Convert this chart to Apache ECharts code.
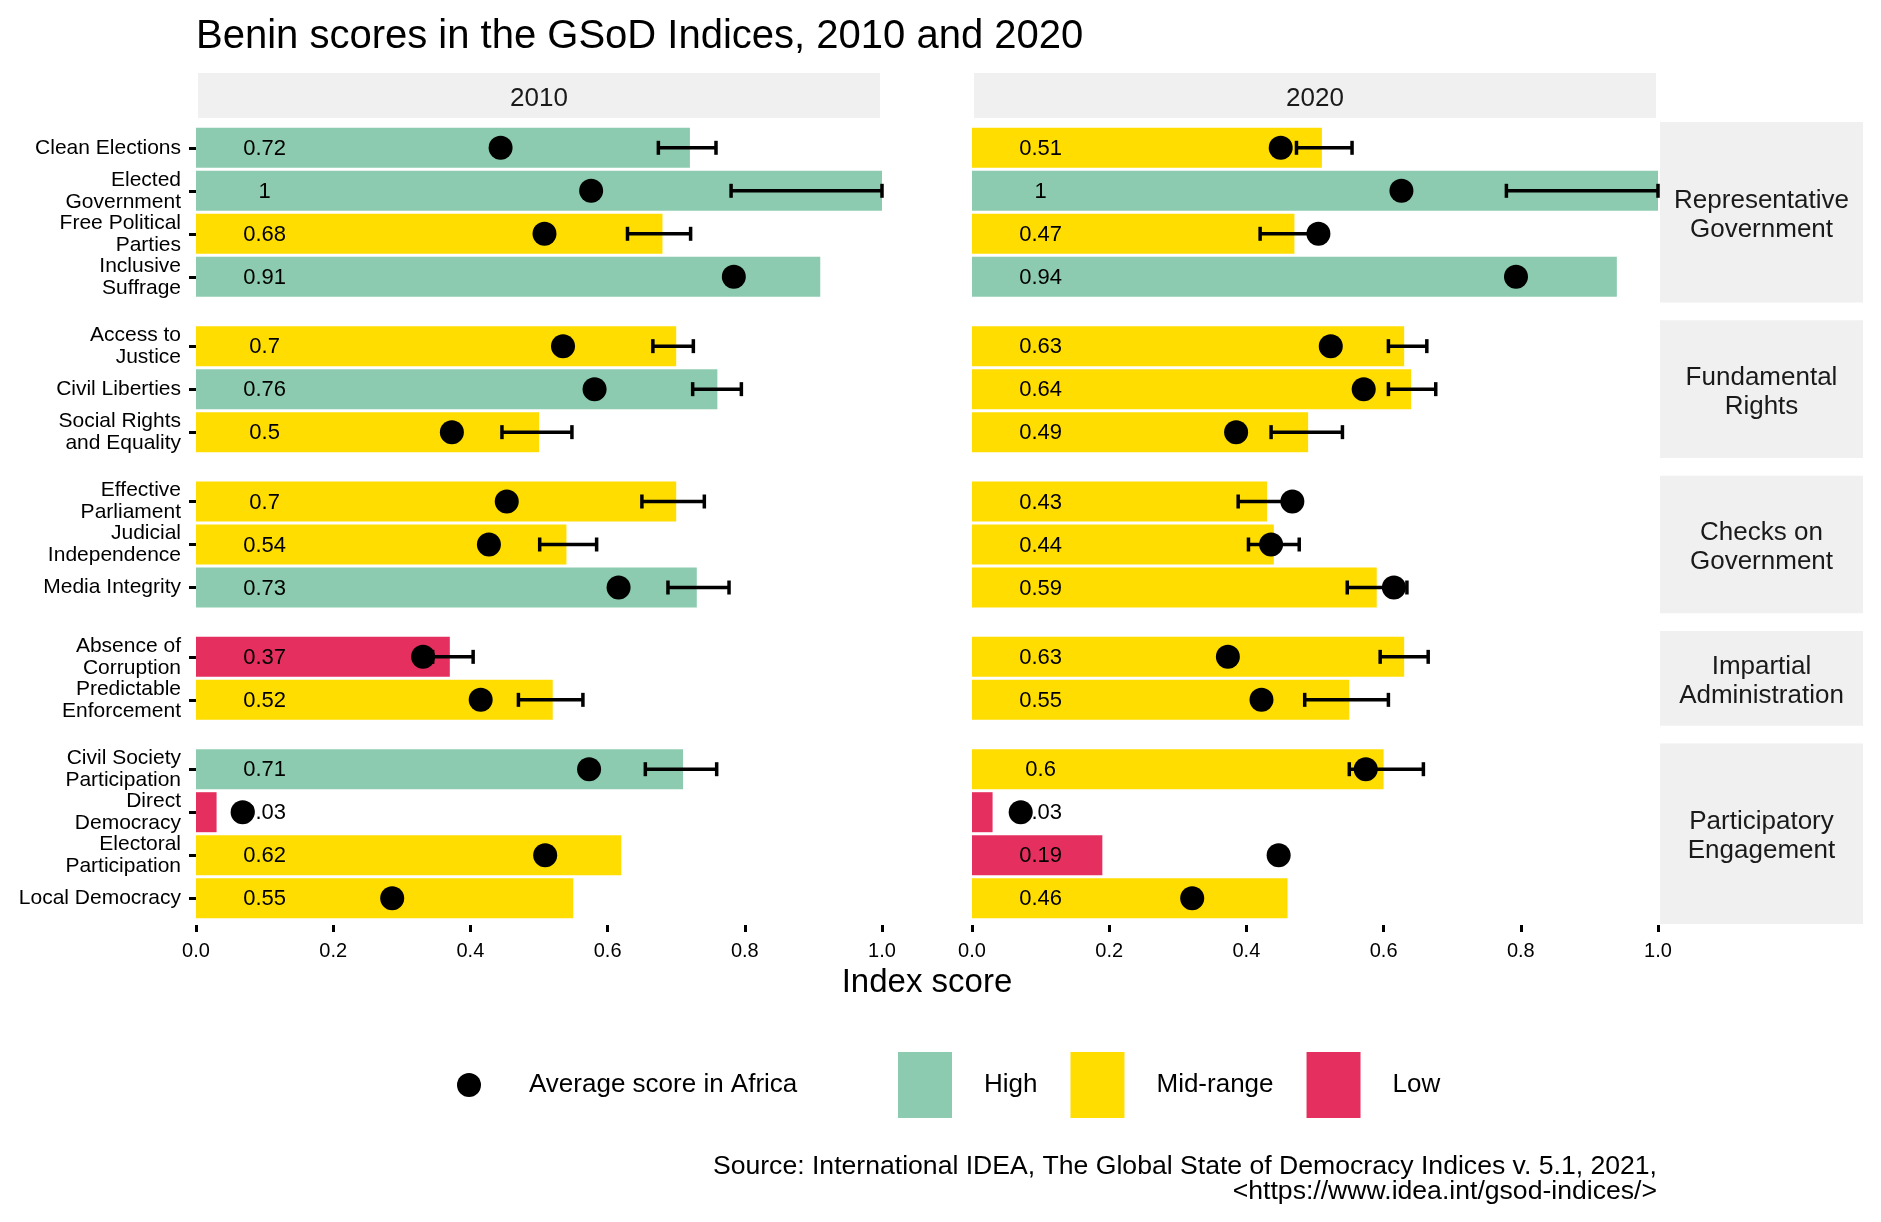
<!DOCTYPE html>
<html>
<head>
<meta charset="utf-8">
<script src="https://cdn.jsdelivr.net/npm/echarts@6/dist/echarts.min.js"></script>
<style>html,body{margin:0;padding:0;background:#fff}#chart{width:1881px;height:1222px}</style>
</head>
<body>
<div id="chart"></div>
<script>
// ---------------- data ----------------
const categories = ['Clean Elections','Elected Government','Free Political Parties','Inclusive Suffrage',
  'Access to Justice','Civil Liberties','Social Rights and Equality',
  'Effective Parliament','Judicial Independence','Media Integrity',
  'Absence of Corruption','Predictable Enforcement',
  'Civil Society Participation','Direct Democracy','Electoral Participation','Local Democracy'];
const tickLabels = ['Clean Elections','Elected\nGovernment','Free Political\nParties','Inclusive\nSuffrage',
  'Access to\nJustice','Civil Liberties','Social Rights\nand Equality',
  'Effective\nParliament','Judicial\nIndependence','Media Integrity',
  'Absence of\nCorruption','Predictable\nEnforcement',
  'Civil Society\nParticipation','Direct\nDemocracy','Electoral\nParticipation','Local Democracy'];
const groups = ['Representative\nGovernment','Fundamental\nRights','Checks on\nGovernment','Impartial\nAdministration','Participatory\nEngagement'];
const groupOf = [0,0,0,0,1,1,1,2,2,2,3,3,4,4,4,4];
const years = ['2010','2020'];
const levels = ['High','Mid-range','Low'];
const xTicks = [0,0.2,0.4,0.6,0.8,1.0];

const score2010 = [0.72,1,0.68,0.91,0.7,0.76,0.5,0.7,0.54,0.73,0.37,0.52,0.71,0.03,0.62,0.55];
const level2010 = ['High','High','Mid-range','High','Mid-range','High','Mid-range','Mid-range','Mid-range','High','Low','Mid-range','High','Low','Mid-range','Mid-range'];
const africa2010 = [0.444,0.576,0.508,0.784,0.535,0.581,0.373,0.453,0.427,0.616,0.331,0.415,0.573,0.068,0.509,0.286];
const lower2010 = [0.674,0.78,0.629,null,0.666,0.724,0.446,0.65,0.501,0.688,0.345,0.47,0.655,null,null,null];
const upper2010 = [0.758,1,0.721,null,0.725,0.795,0.548,0.741,0.584,0.777,0.404,0.564,0.759,null,null,null];

const score2020 = [0.51,1,0.47,0.94,0.63,0.64,0.49,0.43,0.44,0.59,0.63,0.55,0.6,0.03,0.19,0.46];
const level2020 = ['Mid-range','High','Mid-range','High','Mid-range','Mid-range','Mid-range','Mid-range','Mid-range','Mid-range','Mid-range','Mid-range','Mid-range','Low','Low','Mid-range'];
const africa2020 = [0.45,0.626,0.505,0.793,0.523,0.571,0.385,0.467,0.436,0.615,0.373,0.422,0.574,0.071,0.447,0.321];
const lower2020 = [0.473,0.779,0.42,null,0.607,0.607,0.436,0.388,0.403,0.547,0.595,0.485,0.55,null,null,null];
const upper2020 = [0.554,1,0.50,null,0.663,0.676,0.54,0.465,0.477,0.634,0.665,0.607,0.658,null,null,null];

const LABEL_X = 0.1; // x position of the score labels

// ---------------- style / layout ----------------
const FONT = '"Liberation Sans", Arial, Helvetica, sans-serif';
const levelColors = {'High':'#8CCBAF','Mid-range':'#FFDD00','Low':'#E5305F'};
const U = 43, GAP = 17.75, TOP0 = 122, COL_LEFT = [196, 972], COL_W = 686, BAR_W = 40;
const STRIP_X = 1660, STRIP_W = 203, STRIP_BG = '#F0F0F0';
const TXT_DY = 3; // visual centering correction for strip texts

const scores = [score2010, score2020], lvls = [level2010, level2020], africa = [africa2010, africa2020];
const lowers = [lower2010, lower2020], uppers = [upper2010, upper2020];
const fmt = v => String(Math.round(v * 100) / 100);

const panels = [];
let yy = TOP0;
groups.forEach((gname, g) => {
  const rows = categories.map((c, i) => i).filter(i => groupOf[i] === g);
  const h = (rows.length + 0.2) * U;
  panels.push({top: yy, h, rows});
  yy += h + GAP;
});

const grid = [], xAxis = [], yAxis = [], series = [], graphic = [];
for (let c = 0; c < 2; c++) {
  panels.forEach((p, g) => {
    const idx = c * panels.length + g;
    const n = p.rows.length;
    grid.push({left: COL_LEFT[c], width: COL_W, top: p.top + 0.1 * U, height: n * U, outerBoundsMode: 'none'});
    xAxis.push({
      gridIndex: idx, type: 'value', min: 0, max: 1, interval: 0.2,
      show: g === panels.length - 1, offset: 0.1 * U + 1,
      axisLine: {show: false}, splitLine: {show: false},
      axisTick: {show: true, length: 7, lineStyle: {color: '#000', width: 3}},
      axisLabel: {margin: 16, fontSize: 20, color: '#000', fontFamily: FONT,
        formatter: v => { const t = xTicks.find(k => Math.abs(k - v) < 1e-9); return t === undefined ? '' : t.toFixed(1); }}
    });
    yAxis.push({
      gridIndex: idx, type: 'category', inverse: true,
      data: p.rows.map(i => tickLabels[i]),
      axisLine: {show: false}, splitLine: {show: false},
      axisTick: {show: c === 0, alignWithLabel: true, interval: 0, length: 7, lineStyle: {color: '#000', width: 3}},
      axisLabel: {show: c === 0, interval: 0, margin: 15, fontSize: 21, lineHeight: 22, color: '#000', fontFamily: FONT}
    });
    levels.forEach(lv => {
      series.push({
        type: 'bar', name: lv, xAxisIndex: idx, yAxisIndex: idx, barWidth: BAR_W, barGap: '-100%',
        itemStyle: {color: levelColors[lv], opacity: 1}, z: 2, silent: true,
        data: p.rows.map(i => lvls[c][i] === lv ? scores[c][i] : '-')
      });
    });
    series.push({
      type: 'custom', xAxisIndex: idx, yAxisIndex: idx, z: 3, silent: true,
      encode: {x: 0, y: 1},
      data: p.rows.map((i, j) => [LABEL_X, j, scores[c][i]]),
      renderItem: (params, api) => {
        const pt = api.coord([api.value(0), api.value(1)]);
        return {type: 'text', x: pt[0], y: pt[1] + 1,
          style: {text: fmt(api.value(2)), fill: '#000', font: '22px ' + FONT,
            align: 'center', verticalAlign: 'middle', textAlign: 'center', textVerticalAlign: 'middle'}};
      }
    });
    series.push({
      type: 'custom', xAxisIndex: idx, yAxisIndex: idx, z: 4, silent: true,
      encode: {x: [0, 1], y: 2},
      data: p.rows.map((i, j) => lowers[c][i] == null ? null : [lowers[c][i], uppers[c][i], j]).filter(d => d),
      renderItem: (params, api) => {
        const y = api.value(2);
        const a = api.coord([api.value(0), y]);
        const b = api.coord([api.value(1), y]);
        const h = 7, st = {stroke: '#000', lineWidth: 3.5};
        return {type: 'group', children: [
          {type: 'line', shape: {x1: a[0], y1: a[1], x2: b[0], y2: b[1]}, style: st},
          {type: 'line', shape: {x1: a[0], y1: a[1] - h, x2: a[0], y2: a[1] + h}, style: st},
          {type: 'line', shape: {x1: b[0], y1: b[1] - h, x2: b[0], y2: b[1] + h}, style: st}
        ]};
      }
    });
    series.push({
      type: 'scatter', name: 'Average score in Africa', xAxisIndex: idx, yAxisIndex: idx,
      symbol: 'circle', symbolSize: 24, itemStyle: {color: '#000', opacity: 1}, z: 5, silent: true,
      data: p.rows.map((i, j) => [africa[c][i], j])
    });
  });
  // top strip
  graphic.push({type: 'rect', shape: {x: COL_LEFT[c] + 2, y: 73, width: COL_W - 4, height: 45}, style: {fill: STRIP_BG}, silent: true});
  graphic.push({type: 'text', x: COL_LEFT[c] + COL_W / 2, y: 95.5 + TXT_DY,
    style: {text: years[c], fill: '#1a1a1a', font: '26px ' + FONT, align: 'center', verticalAlign: 'middle', textAlign: 'center', textVerticalAlign: 'middle'}, silent: true});
}
panels.forEach((p, g) => {
  graphic.push({type: 'rect', shape: {x: STRIP_X, y: p.top, width: STRIP_W, height: p.h}, style: {fill: STRIP_BG}, silent: true});
  graphic.push({type: 'text', x: STRIP_X + STRIP_W / 2, y: p.top + p.h / 2 + TXT_DY,
    style: {text: groups[g], fill: '#1a1a1a', font: '26px ' + FONT, lineHeight: 29, align: 'center', verticalAlign: 'middle', textAlign: 'center', textVerticalAlign: 'middle'}, silent: true});
});
graphic.push({type: 'text', x: (COL_LEFT[0] + COL_LEFT[1] + COL_W) / 2, y: 983,
  style: {text: 'Index score', fill: '#000', font: '33px ' + FONT, align: 'center', verticalAlign: 'middle', textAlign: 'center', textVerticalAlign: 'middle'}, silent: true});
graphic.push({type: 'text', x: COL_LEFT[1] + COL_W - 1, y: 1179,
  style: {text: 'Source: International IDEA, The Global State of Democracy Indices v. 5.1, 2021,\n<https://www.idea.int/gsod-indices/>',
    fill: '#000', font: '26.6px ' + FONT, lineHeight: 25, align: 'right', verticalAlign: 'middle', textAlign: 'right', textVerticalAlign: 'middle'}, silent: true});

const chart = echarts.init(document.getElementById('chart'), null, {renderer: 'canvas'});
chart.setOption({
  animation: false,
  backgroundColor: '#fff',
  title: {text: 'Benin scores in the GSoD Indices, 2010 and 2020', left: 196, top: 17, padding: 0,
    textStyle: {fontSize: 40, fontWeight: 'normal', color: '#000', fontFamily: FONT}},
  legend: [
    {data: [{name: 'Average score in Africa', icon: 'circle'}], left: 457, top: 1072, padding: 0,
      itemWidth: 24, itemHeight: 24, selectedMode: false,
      itemStyle: {opacity: 1},
      textStyle: {fontSize: 26, color: '#000', fontFamily: FONT, padding: [0, 0, 0, 43]}},
    {data: levels.map(l => ({name: l, icon: 'rect'})), left: 898, top: 1052, padding: 0,
      itemWidth: 54, itemHeight: 66, itemGap: 33, selectedMode: false,
      textStyle: {fontSize: 26, color: '#000', fontFamily: FONT, padding: [0, 0, 0, 27]}}
  ],
  grid, xAxis, yAxis, series, graphic
});
</script>
</body>
</html>
